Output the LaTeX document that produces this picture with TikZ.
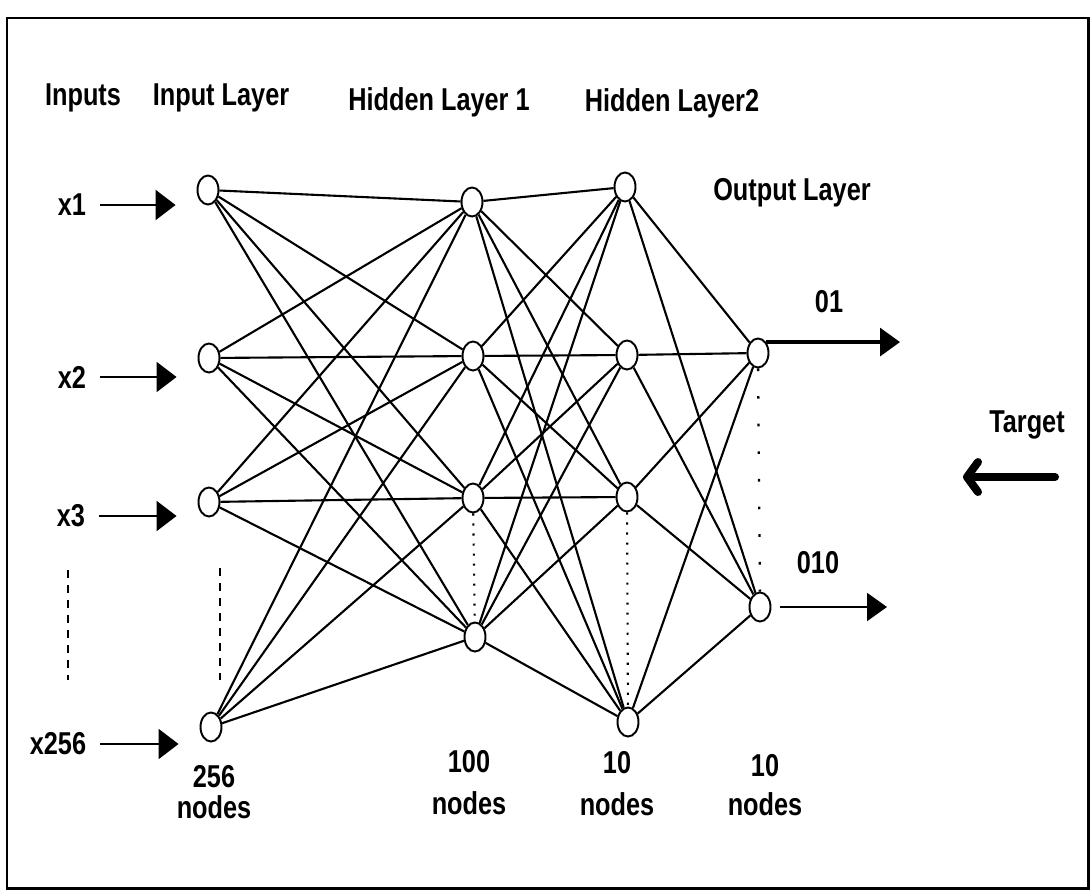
\documentclass[tikz,border=0pt]{standalone}
\usepackage{fontspec}
\setmainfont{Liberation Sans}[FakeStretch=0.8]
\usetikzlibrary{shapes.geometric,arrows.meta}

\begin{document}
\begin{tikzpicture}[x=0.02cm,y=-0.02cm,
  neuron/.style={draw,shape=ellipse,line width=1.1pt,inner sep=0pt,minimum width=0.42cm,minimum height=0.58cm},
  link/.style={line width=1.2pt},
  lbl/.style={font=\fontsize{18}{20}\selectfont\bfseries,inner sep=0pt,align=center},
  inarrow/.style={line width=1.2pt,shorten <=0.28cm,shorten >=0.42cm,-{Triangle[length=0.4cm,width=0.6cm]}},
  outarrow/.style={line width=1.2pt,-{Triangle[length=0.4cm,width=0.56cm]}},
  dotline/.style={line width=1.2pt,dash pattern=on 1.2pt off 4.5pt},
  dashline/.style={line width=1.2pt,dash pattern=on 0.16cm off 0.14cm}]

\useasboundingbox (0,0) rectangle (1092,892);
\draw[line width=1.7pt] (7,18) rectangle (1088,888);

% headings
\node (tinputs) [lbl] at (83,98) {Inputs};
\node (tinlayer) [lbl] at (221,98) {Input Layer};
\node (thida) [lbl] at (439,102) {Hidden Layer 1};
\node (thidb) [lbl] at (672,103) {Hidden Layer2};
\node (toutlayer) [lbl] at (792,193) {Output Layer};

% layers
\node (in1) [neuron] at (208,190) {};
\node (in2) [neuron] at (209,358) {};
\node (in3) [neuron] at (209,502) {};
\node (in4) [neuron] at (211,727) {};

\node (hida1) [neuron] at (472,202) {};
\node (hida2) [neuron] at (473,356) {};
\node (hida3) [neuron] at (473,498) {};
\node (hida4) [neuron] at (475,637) {};

\node (hidb1) [neuron] at (625,187) {};
\node (hidb2) [neuron] at (627,355) {};
\node (hidb3) [neuron] at (627,497) {};
\node (hidb4) [neuron] at (628,722) {};

\node (out1) [neuron] at (758,353) {};
\node (out2) [neuron] at (760,607) {};

\foreach \a in {1,...,4}
  \foreach \b in {1,...,4}
    \draw[link] (in\a) -- (hida\b);
\foreach \a in {1,...,4}
  \foreach \b in {1,...,4}
    \draw[link] (hida\a) -- (hidb\b);
\foreach \a in {1,...,4}
  \foreach \b in {1,2}
    \draw[link] (hidb\a) -- (out\b);

\draw[dotline] (hida3) -- (hida4);
\draw[dotline] (hidb3) -- (hidb4);
\draw[line width=1.3pt,dash pattern=on 1.5pt off 0.5cm] (out1) -- (out2);
\draw[dashline] (68,570) -- (68,680);
\draw[dashline] (220,568) -- (220,680);

% inputs
\node (lx1) [lbl] at (72,205) {x1};
\node (lx2) [lbl] at (72,377) {x2};
\node (lx3) [lbl] at (71,516) {x3};
\node (lx256) [lbl] at (58,744) {x256};

\draw[inarrow] (lx1.east) -- (lx1 -| in1.west);
\draw[inarrow] (lx2.east) -- (lx2 -| in2.west);
\draw[inarrow] (lx3.east) -- (lx3 -| in3.west);
\draw[inarrow] (lx256.east) -- (lx256 -| in4.west);

% outputs
\coordinate (o1tip) at (900,340);
\coordinate (o2tip) at (887,605);
\node (lo1) [lbl] at (829,302) {01};
\node (lo2) [lbl] at (818,563) {010};
\draw[outarrow,line width=1.8pt] (out1.north east) -- (out1.north east -| o1tip);
\draw[outarrow,shorten <=0.17cm] (out2.east) -- (out2.east -| o2tip);

\node (ltarget) [lbl] at (1027,425) {Target};
\coordinate (tgtstart) at (1055,477);
\coordinate (tgtend) at (963,477);
\draw[line width=0.16cm,line cap=round,-{Straight Barb[length=0.22cm,width=0.6cm,round]}] (tgtstart) -- (tgtend);

% layer sizes
\node (nin) [lbl] at (214,792) {256\\[-2pt]nodes};
\node (nhida) [lbl] at (469,783) {100\\[4pt]nodes};
\node (nhidb) [lbl] at (617,784) {10\\[4pt]nodes};
\node (nout) [lbl] at (765,785) {10\\[2pt]nodes};

\end{tikzpicture}
\end{document}
